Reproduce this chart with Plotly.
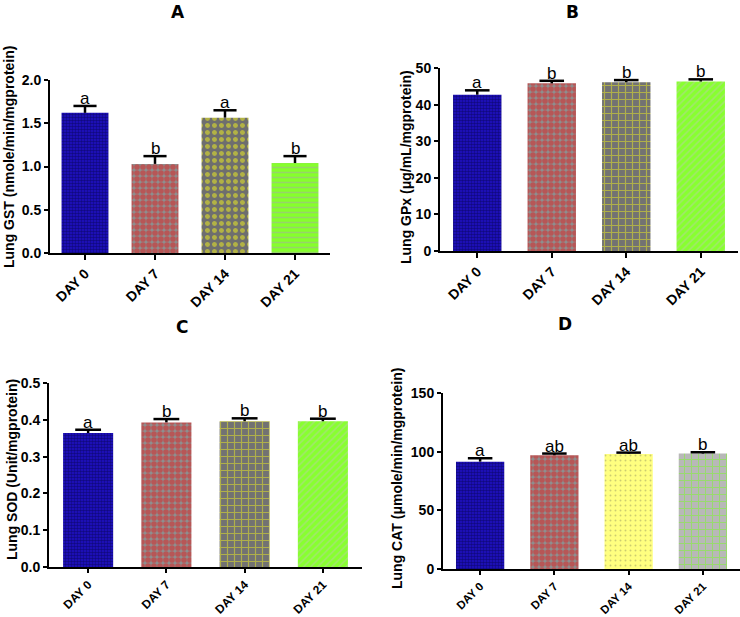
import plotly.graph_objects as go

categories = ["DAY 0", "DAY 7", "DAY 14", "DAY 21"]

gst_mean = [1.62, 1.03, 1.565, 1.04]
gst_err = [0.08, 0.09, 0.085, 0.08]
gst_letters = ["a", "b", "a", "b"]

gpx_mean = [42.7, 45.8, 46.1, 46.3]
gpx_err = [1.2, 0.7, 0.6, 0.6]
gpx_letters = ["a", "b", "b", "b"]

sod_mean = [0.364, 0.393, 0.396, 0.396]
sod_err = [0.009, 0.009, 0.008, 0.007]
sod_letters = ["a", "b", "b", "b"]

cat_mean = [91.5, 96.9, 98.1, 98.4]
cat_err = [2.9, 1.5, 1.1, 1.1]
cat_letters = ["a", "ab", "ab", "b"]

W, H = 740, 617

panels = [
    dict(key="A", mean=gst_mean, err=gst_err, letters=gst_letters,
         ytitle="Lung GST (nmole/min/mgprotein)", yrange=[0, 2.0], dtick=0.5, tickfmt=".1f",
         xdom=[50, 330], ydom=[253, 80], tpos=(178, 12), ytpos=(9, 157), bw=0.67, xfs=14, xtl=5),
    dict(key="B", mean=gpx_mean, err=gpx_err, letters=gpx_letters,
         ytitle="Lung GPx (\u03bcg/mL/mgprotein)", yrange=[0, 50], dtick=10, tickfmt="d",
         xdom=[440, 738], ydom=[251, 68], tpos=(572, 12), ytpos=(406, 167), bw=0.65, xfs=14, xtl=5),
    dict(key="C", mean=sod_mean, err=sod_err, letters=sod_letters,
         ytitle="Lung SOD (Unit/mgprotein)", yrange=[0, 0.5], dtick=0.1, tickfmt=".1f",
         xdom=[49, 362], ydom=[567, 383], tpos=(182, 327), ytpos=(12, 470), bw=0.64, xfs=12, xtl=4),
    dict(key="D", mean=cat_mean, err=cat_err, letters=cat_letters,
         ytitle="Lung CAT (\u03bcmole/min/mgprotein)", yrange=[0, 150], dtick=50, tickfmt="d",
         xdom=[443, 740], ydom=[569, 393], tpos=(565, 324), ytpos=(397, 478), bw=0.65, xfs=11.5, xtl=4),
]

# pattern styles per bar: (shape, bgcolor, fgcolor, size, solidity)
navy = (".", "#2010c8", "#020238", 3, 0.55)
redchk = (".", "#8e8e8e", "#e01e1e", 6, 0.7)
styles = {
    "A": [navy, redchk, (".", "#6e6e6e", "#f6f61c", 7, 0.4), ("-", "#86ff2c", "#a8a8a8", 5, 0.3)],
    "B": [navy, redchk, ("+", "#727272", "#ecec22", 7, 0.3), ("/", "#88ff30", "#bcccac", 5, 0.3)],
    "C": [navy, redchk, ("+", "#727272", "#ecec22", 7, 0.3), ("/", "#88ff30", "#bcccac", 5, 0.3)],
    "D": [navy, redchk, (".", "#ffff80", "#9a9a60", 5, 0.12), ("+", "#b8b8b8", "#78ff20", 7, 0.25)],
}

fig = go.Figure()
annotations = []
xpos = list(range(len(categories)))
font_family = "Liberation Sans, Arial, sans-serif"

for i, p in enumerate(panels, start=1):
    xa = "x" if i == 1 else f"x{i}"
    ya = "y" if i == 1 else f"y{i}"
    st = styles[p["key"]]
    for j, s in enumerate(st):
        fig.add_trace(go.Bar(
            x=[xpos[j]], y=[p["mean"][j]], width=p["bw"], xaxis=xa, yaxis=ya,
            marker=dict(
                color=s[1], line=dict(width=0),
                pattern=dict(shape=s[0], fgcolor=s[2], size=s[3], solidity=s[4],
                             fillmode="overlay"),
            ),
            showlegend=False, hoverinfo="skip",
        ))
    # error bars (upper only, GraphPad style)
    ex, ey = [], []
    cap = 0.165
    for j, (m, e) in enumerate(zip(p["mean"], p["err"])):
        ex += [j, j, None, j - cap, j + cap, None]
        ey += [m, m + e, None, m + e, m + e, None]
    fig.add_trace(go.Scatter(x=ex, y=ey, mode="lines", xaxis=xa, yaxis=ya,
                             line=dict(color="black", width=2.5),
                             showlegend=False, hoverinfo="skip"))
    for j, (m, e, lt) in enumerate(zip(p["mean"], p["err"], p["letters"])):
        annotations.append(dict(x=j, y=m + e, xref=xa, yref=ya, text=lt, showarrow=False,
                                yanchor="bottom", yshift=-4,
                                font=dict(family=font_family, size=17, color="black")))
    annotations.append(dict(x=p["tpos"][0] / W, y=1 - p["tpos"][1] / H, xref="paper", yref="paper",
                            text=f"<b>{p['key']}</b>", showarrow=False, xanchor="center", yanchor="middle",
                            font=dict(family="DejaVu Sans, sans-serif", size=17, color="black", weight="bold")))
    annotations.append(dict(x=p["ytpos"][0] / W, y=1 - p["ytpos"][1] / H, xref="paper", yref="paper",
                            text=p["ytitle"], showarrow=False, textangle=-90,
                            xanchor="center", yanchor="middle",
                            font=dict(family=font_family, size=14, color="black", weight="bold")))
    axkey = "xaxis" if i == 1 else f"xaxis{i}"
    aykey = "yaxis" if i == 1 else f"yaxis{i}"
    fig.update_layout(**{
        axkey: dict(domain=[p["xdom"][0] / W, p["xdom"][1] / W], anchor=ya, range=[-0.5, 3.5],
                    tickmode="array", tickvals=xpos, ticktext=categories, tickangle=-45,
                    ticks="outside", ticklen=p["xtl"], tickwidth=2, tickcolor="black", showline=True,
                    linecolor="black", linewidth=2, showgrid=False, zeroline=False, fixedrange=True,
                    automargin=False,
                    tickfont=dict(family=font_family, size=p["xfs"], color="black", weight="bold")),
        aykey: dict(domain=[1 - p["ydom"][0] / H, 1 - p["ydom"][1] / H], anchor=xa,
                    range=p["yrange"], dtick=p["dtick"], tick0=0,
                    tickformat=p["tickfmt"], ticks="outside", ticklen=4, tickwidth=2,
                    tickcolor="black", showline=True, linecolor="black", linewidth=2,
                    showgrid=False, zeroline=False, fixedrange=True, automargin=False,
                    tickfont=dict(family=font_family, size=14, color="black", weight="bold")),
    })

fig.update_layout(width=W, height=H, margin=dict(l=0, r=0, t=0, b=0, pad=0, autoexpand=False),
                  paper_bgcolor="white", plot_bgcolor="white", barmode="overlay",
                  annotations=annotations)
fig.write_html("out.html", config={"displayModeBar": False},
               post_script="document.body.style.margin='0px';document.body.style.overflow='hidden';")
